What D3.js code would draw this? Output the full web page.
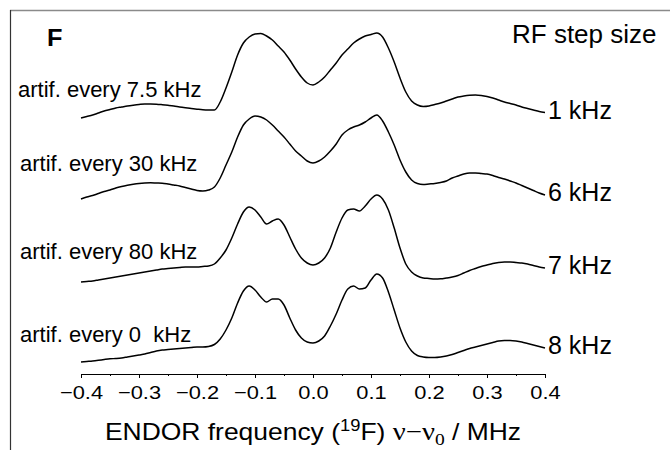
<!DOCTYPE html>
<html>
<head>
<meta charset="utf-8">
<script src="https://cdn.jsdelivr.net/npm/d3@7"></script>
<style>
  html, body { margin: 0; padding: 0; background: #fff; }
  svg { display: block; font-family: "Liberation Sans", Arial, sans-serif; }
  .axis text { font-size: 19px; fill: #000; }
  .axis line, .axis path { stroke: #000; stroke-width: 1; }
</style>
</head>
<body>
<div id="chart"></div>
<script>
// Frequency grid (MHz, ν − ν0), shared by all four traces
const freq = d3.range(81).map(i => +(-0.4 + i * 0.01).toFixed(2));

// Trace names (RF step size) and the artefact note on each
const stepLabels = ["1 kHz", "6 kHz", "7 kHz", "8 kHz"];
const artifLabels = ["artif. every 7.5 kHz", "artif. every 30 kHz", "artif. every 80 kHz", "artif. every 0  kHz"];

// Vertical stacking offsets (a.u.)
const offsets = [245, 165, 80, 0];

// ENDOR intensities (a.u.)
const int1k = [11, 12.5, 14, 16, 18, 19.5, 21, 22, 23, 23.8, 24.5, 25, 25, 24.8, 24.3, 23.7, 23, 22, 21.2, 20.5,
  19.8, 19.2, 19, 19, 27, 41, 57, 74, 86, 92, 95, 95.5, 93, 89, 83, 77, 69, 60, 52, 46,
  44, 47, 52, 59, 66, 74, 80, 86, 90, 93, 94.5, 96, 92, 81, 67, 51, 37, 28, 24, 22.5,
  23, 24.5, 26, 28, 30, 32, 33, 33.7, 34, 33.5, 32.5, 31, 29, 27, 25.5, 24, 22, 20.5, 19, 17.5, 16.5];
const int6k = [10, 12, 13.5, 15.5, 17.5, 19, 21, 22.5, 23.7, 24.7, 25.5, 26, 26.2, 26, 25.8, 25, 24, 23, 21.5, 20,
  18.5, 18, 19, 22, 31, 44, 57, 72, 84, 90, 93, 92, 89, 84, 78, 72, 65, 58, 53, 48,
  46, 48, 52, 58, 65, 74, 79, 82, 84, 87, 91, 94, 88, 77, 64, 49, 37, 29, 25.5, 24.5,
  25, 25.5, 26.5, 28, 31, 33, 35, 36, 36, 35.5, 35, 33.5, 31.5, 30, 28, 26, 23.5, 21, 18.5, 16, 14];
const int7k = [12, 12.5, 13, 14, 15, 16, 17, 18, 19, 20, 21, 22, 23, 24, 25, 25.5, 26, 26.5, 27, 27,
  27, 27.5, 28, 30, 36, 44, 56, 70, 82, 87, 84, 77, 70, 73, 75, 69, 57, 45, 36, 31,
  29, 31, 36, 46, 62, 76, 84, 85, 83, 88, 95, 99, 95, 84, 66, 46, 30, 22, 18, 16,
  15.5, 15, 15.2, 16, 17, 18.5, 21, 23.5, 25.5, 27.5, 29, 30.5, 31.5, 32, 32, 31.5, 31, 30, 28.5, 27, 26];
const int8k = [12, 12.5, 13, 13.7, 14.5, 15.2, 15.5, 16, 17, 18, 19, 20, 21.5, 23, 24, 24.5, 25, 25.5, 26, 26.5,
  27, 27, 27.5, 29.5, 35, 44, 56, 71, 83, 88, 84, 77, 72, 75, 75, 69, 56, 44, 36, 32,
  31, 33, 38, 48, 60, 74, 85, 88, 85, 86, 94, 100, 96, 82, 64, 46, 32, 23, 18.5, 17,
  16.5, 16.5, 17, 18, 19.5, 21.5, 23.5, 25.5, 27, 28.5, 30, 31.5, 33, 33.5, 33.5, 33, 32, 30.5, 29, 27.5, 26];
const traces = [int1k, int6k, int7k, int8k];

const ticksMajor = d3.range(-0.4, 0.41, 0.1).map(v => +v.toFixed(1));
const ticksMinor = d3.range(-0.35, 0.4, 0.1).map(v => +v.toFixed(2));

const width = 670, height = 450;
const svg = d3.select("#chart").append("svg")
  .attr("width", width).attr("height", height);

const x = d3.scaleLinear().domain([-0.4, 0.4]).range([81, 545]);
const y = d3.scaleLinear().domain([0, 364]).range([374, 10]);

// the source text is a little stretched sideways
const WIDE = 1.15;

// frame (only top and left edges show)
svg.append("line").attr("x1", 10).attr("x2", width).attr("y1", 10.5).attr("y2", 10.5)
  .attr("stroke", "#8a8a8a").attr("stroke-width", 1.5);
svg.append("line").attr("x1", 10.5).attr("x2", 10.5).attr("y1", 10).attr("y2", height)
  .attr("stroke", "#333").attr("stroke-width", 1.2);

// x axis
svg.append("g").attr("class", "axis")
  .attr("transform", `translate(0,${y(0)})`)
  .call(d3.axisBottom(x).tickValues(ticksMajor).tickFormat(d3.format(".1f")).tickSize(4).tickSizeOuter(0).tickPadding(8))
  .selectAll(".tick text").attr("transform", `scale(${WIDE},1)`);
svg.append("g").attr("class", "axis")
  .attr("transform", `translate(0,${y(0)})`)
  .call(d3.axisBottom(x).tickValues(ticksMinor).tickFormat("").tickSize(2).tickSizeOuter(0))
  .select(".domain").remove();

// traces
const line = d3.line()
  .x((d, i) => x(freq[i]))
  .curve(d3.curveMonotoneX);

traces.forEach((vals, k) => {
  svg.append("path")
    .datum(vals)
    .attr("fill", "none")
    .attr("stroke", "#000")
    .attr("stroke-width", 1.5)
    .attr("stroke-linejoin", "round")
    .attr("d", line.y(d => y(d + offsets[k])));
});

// right labels (RF step size)
const lastY = traces.map((v, k) => y(v[v.length - 1] + offsets[k]));
svg.selectAll("text.step")
  .data(stepLabels)
  .join("text")
  .attr("class", "step")
  .attr("x", x(0.4) + 3)
  .attr("y", (d, k) => lastY[k] + 6)
  .attr("font-size", 25)
  .text(d => d);

svg.append("text").attr("x", 512).attr("y", 43).attr("font-size", 26).text("RF step size");
svg.append("text").attr("transform", "translate(47,46) scale(1.1,1)")
  .attr("font-size", 23).attr("font-weight", "bold").text("F");

// left labels
const artifY = [97, 171, 259, 342];
svg.selectAll("text.artif")
  .data(artifLabels)
  .join("text")
  .attr("class", "artif")
  .attr("x", (d, k) => k === 0 ? 18 : 20)
  .attr("y", (d, k) => artifY[k])
  .attr("font-size", 22)
  .style("white-space", "pre")
  .text(d => d);

// axis title
const title = svg.append("text")
  .attr("transform", `translate(${x(0)},440) scale(${WIDE},1)`)
  .attr("text-anchor", "middle")
  .attr("font-size", 23);
title.append("tspan").text("ENDOR frequency (");
title.append("tspan").attr("font-size", 16).attr("dy", -9).text("19");
title.append("tspan").attr("dy", 9).text("F) ");
title.append("tspan").attr("font-family", "Liberation Serif, serif").attr("font-size", 25).text("ν−ν");
title.append("tspan").attr("font-family", "Liberation Serif, serif").attr("font-size", 17).attr("dy", 5).text("0");
title.append("tspan").attr("dy", -5).text(" / MHz");
</script>
</body>
</html>
